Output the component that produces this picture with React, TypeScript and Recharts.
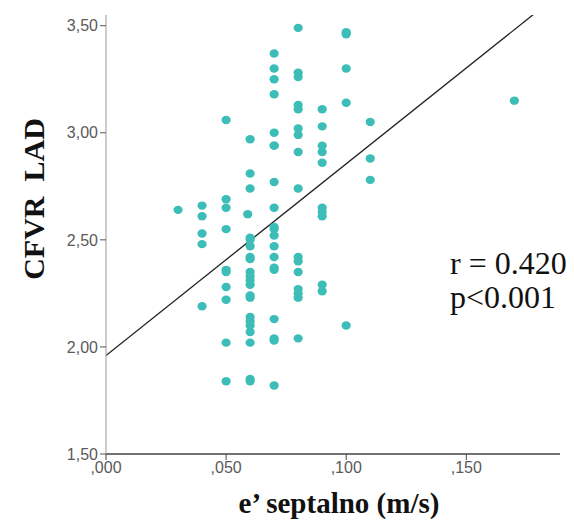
import React from 'react';
import { ScatterChart, Scatter, XAxis, YAxis, ReferenceLine, Label } from 'recharts';

// CFVR LAD measured at each e' septal velocity (m/s)
const cfvrAt030 = [2.64];
const cfvrAt040 = [2.66, 2.61, 2.53, 2.48, 2.19];
const cfvrAt050 = [3.06, 2.69, 2.65, 2.55, 2.36, 2.35, 2.28, 2.22, 2.02, 1.84];
const cfvrAt059 = [2.62];
const cfvrAt060 = [2.97, 2.81, 2.74, 2.51, 2.5, 2.47, 2.42, 2.41, 2.35, 2.33, 2.31, 2.29, 2.24, 2.23, 2.14, 2.12, 2.1, 2.07, 2.02, 1.85, 1.84];
const cfvrAt070 = [3.37, 3.3, 3.25, 3.18, 3.0, 2.94, 2.94, 2.77, 2.65, 2.56, 2.55, 2.52, 2.47, 2.42, 2.37, 2.36, 2.13, 2.04, 2.03, 1.82];
const cfvrAt080 = [3.49, 3.28, 3.26, 3.13, 3.11, 3.02, 2.99, 2.91, 2.74, 2.42, 2.4, 2.35, 2.27, 2.25, 2.23, 2.04];
const cfvrAt090 = [3.11, 3.03, 2.94, 2.91, 2.86, 2.65, 2.63, 2.61, 2.29, 2.26];
const cfvrAt100 = [3.47, 3.46, 3.3, 3.14, 2.1];
const cfvrAt110 = [3.05, 2.88, 2.78];
const cfvrAt170 = [3.15];

const septalGroups: [number, number[]][] = [
  [0.03, cfvrAt030],
  [0.04, cfvrAt040],
  [0.05, cfvrAt050],
  [0.059, cfvrAt059],
  [0.06, cfvrAt060],
  [0.07, cfvrAt070],
  [0.08, cfvrAt080],
  [0.09, cfvrAt090],
  [0.1, cfvrAt100],
  [0.11, cfvrAt110],
  [0.17, cfvrAt170],
];

const xTicks = [0, 0.05, 0.1, 0.15];
const yTicks = [1.5, 2, 2.5, 3, 3.5];
const X_MAX = 0.189;
const Y_MIN = 1.5;
const Y_MAX = 3.55;

// linear fit line
const FIT_INTERCEPT = 1.96;
const FIT_SLOPE = 8.95;

const points = septalGroups.flatMap(([x, ys]) => ys.map((y) => ({ x, y })));

const fmtY = (v: number) => v.toFixed(2).replace('.', ',');
const fmtX = (v: number) => v.toFixed(3).replace(/^0\./, ',');

const tickStyle = { fill: '#5a5a5a', fontSize: 16, fontFamily: 'Liberation Sans, Arial, sans-serif' };
const titleFont = 'Liberation Serif, Times New Roman, serif';

const Dot = (props: any) => <ellipse cx={props.cx} cy={props.cy} rx={4.6} ry={4.2} fill="#3dbdb8" />;

export default function App() {
  return (
    <div style={{ position: 'absolute', left: 0, top: 0, width: 574, height: 524, background: '#fff' }}>
      <ScatterChart width={574} height={524} margin={{ top: 15, right: 14, bottom: 0, left: 0 }}>
        <XAxis
          type="number"
          dataKey="x"
          domain={[0, X_MAX]}
          ticks={xTicks}
          tickFormatter={fmtX}
          height={70}
          tickSize={6}
          tick={tickStyle}
          axisLine={{ stroke: '#444', strokeWidth: 1.6 }}
          tickLine={{ stroke: '#444' }}
        >
          <Label
            content={(p: any) => (
              <text
                x={p.viewBox.x + p.viewBox.width / 2 + 6}
                y={513}
                textAnchor="middle"
                fontFamily={titleFont}
                fontWeight="bold"
                fontSize={29}
                fill="#111"
              >
                e’ septalno (m/s)
              </text>
            )}
          />
        </XAxis>
        <YAxis
          type="number"
          dataKey="y"
          domain={[Y_MIN, Y_MAX]}
          ticks={yTicks}
          tickFormatter={fmtY}
          width={106}
          tickSize={6}
          tick={tickStyle}
          axisLine={{ stroke: '#999' }}
          tickLine={{ stroke: '#555' }}
        >
          <Label
            content={() => (
              <text
                transform="translate(44, 199) rotate(-90)"
                textAnchor="middle"
                fontFamily={titleFont}
                fontWeight="bold"
                fontSize={30}
                fill="#111"
                style={{ whiteSpace: 'pre' }}
              >
                CFVR  LAD
              </text>
            )}
          />
        </YAxis>
        <ReferenceLine
          segment={[
            { x: 0, y: FIT_INTERCEPT },
            { x: X_MAX, y: FIT_INTERCEPT + FIT_SLOPE * X_MAX },
          ]}
          stroke="#222"
          strokeWidth={1.3}
          ifOverflow="hidden"
        />
        <Scatter data={points} shape={Dot} isAnimationActive={false} />
      </ScatterChart>
      <div
        style={{
          position: 'absolute',
          left: 450,
          top: 246,
          fontFamily: titleFont,
          fontSize: 32,
          lineHeight: '34px',
          color: '#111',
          whiteSpace: 'nowrap',
        }}
      >
        <div>r = 0.420</div>
        <div>p&lt;0.001</div>
      </div>
    </div>
  );
}
